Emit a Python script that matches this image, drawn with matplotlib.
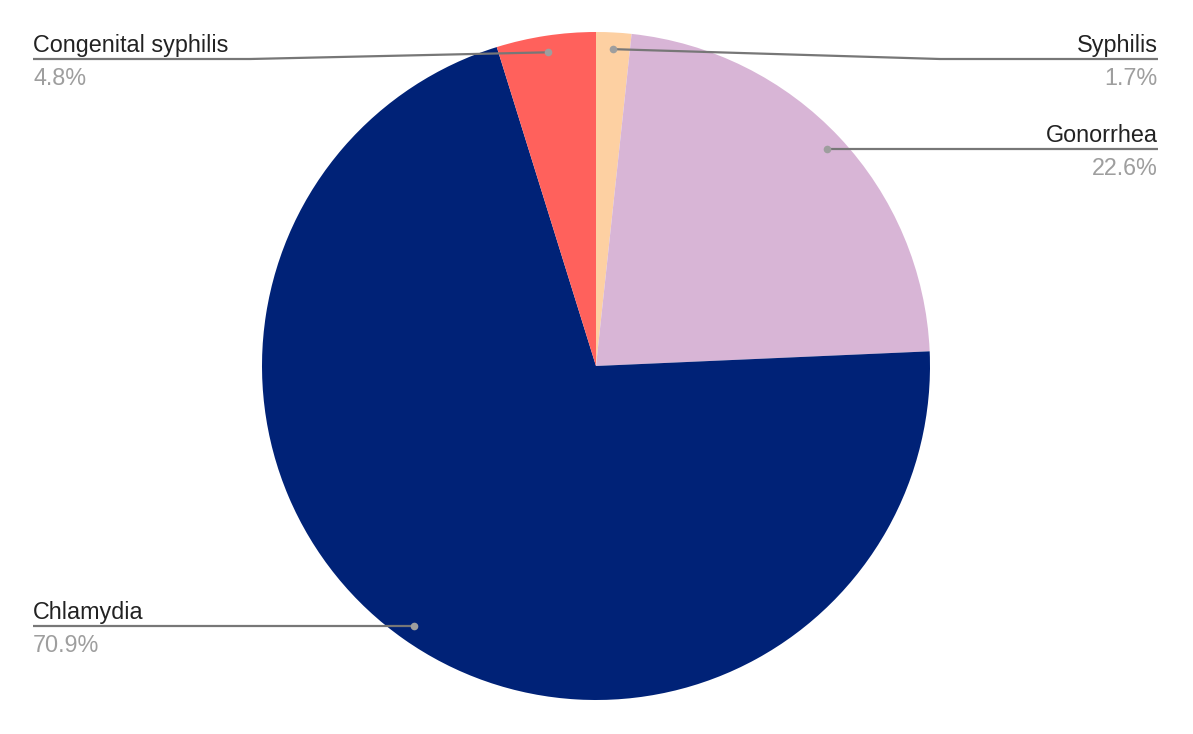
import numpy as np
import matplotlib.pyplot as plt

plt.rcParams['font.family'] = ['Liberation Sans', 'DejaVu Sans']

# data
categories = ["Syphilis", "Gonorrhea", "Chlamydia", "Congenital syphilis"]
shares = [1.7, 22.6, 70.9, 4.8]
colors = ["#fdd0a2", "#d8b5d6", "#002277", "#ff615c"]

W, H = 1193, 734
fig = plt.figure(figsize=(W / 100, H / 100), dpi=100)
ax = fig.add_axes([0, 0, 1, 1])

cx, cy, R = 596, H - 366, 334
wedges, _ = ax.pie(shares, colors=colors, startangle=90, counterclock=False,
                   center=(cx, cy), radius=R, frame=True,
                   wedgeprops=dict(linewidth=0))
ax.set_xlim(0, W)
ax.set_ylim(0, H)
ax.set_aspect('equal')
ax.axis('off')

# label layout: side, y of underline (px from top), elbow x
layout = {
    "Syphilis": ("right", 59, 940),
    "Gonorrhea": ("right", None, None),
    "Chlamydia": ("left", None, None),
    "Congenital syphilis": ("left", 59, 250),
}
x_left, x_right = 33, 1158
line_col = "#777777"

for w, name, val in zip(wedges, categories, shares):
    mid = np.deg2rad((w.theta1 + w.theta2) / 2)
    px = cx + 0.95 * R * np.cos(mid)
    py = cy + 0.95 * R * np.sin(mid)
    side, ly, ex = layout[name]
    if ly is None:
        ly_d = py
        ex = px
    else:
        ly_d = H - ly
    xend = x_right if side == "right" else x_left
    ax.plot([px, ex, xend], [py, ly_d, ly_d], color=line_col, lw=1.6,
            solid_capstyle='butt', zorder=3)
    ax.plot(px, py, 'o', ms=5.5, color="#9e9e9e", mec="none", zorder=4)
    ha = "right" if side == "right" else "left"
    ax.text(xend, ly_d + 7, name, ha=ha, va='baseline', fontsize=16.8,
            color="#222222")
    ax.text(xend, ly_d - 26, f"{val}%", ha=ha, va='baseline', fontsize=16.8,
            color="#9e9e9e")

fig.savefig("out.png", dpi=100, facecolor="white")
